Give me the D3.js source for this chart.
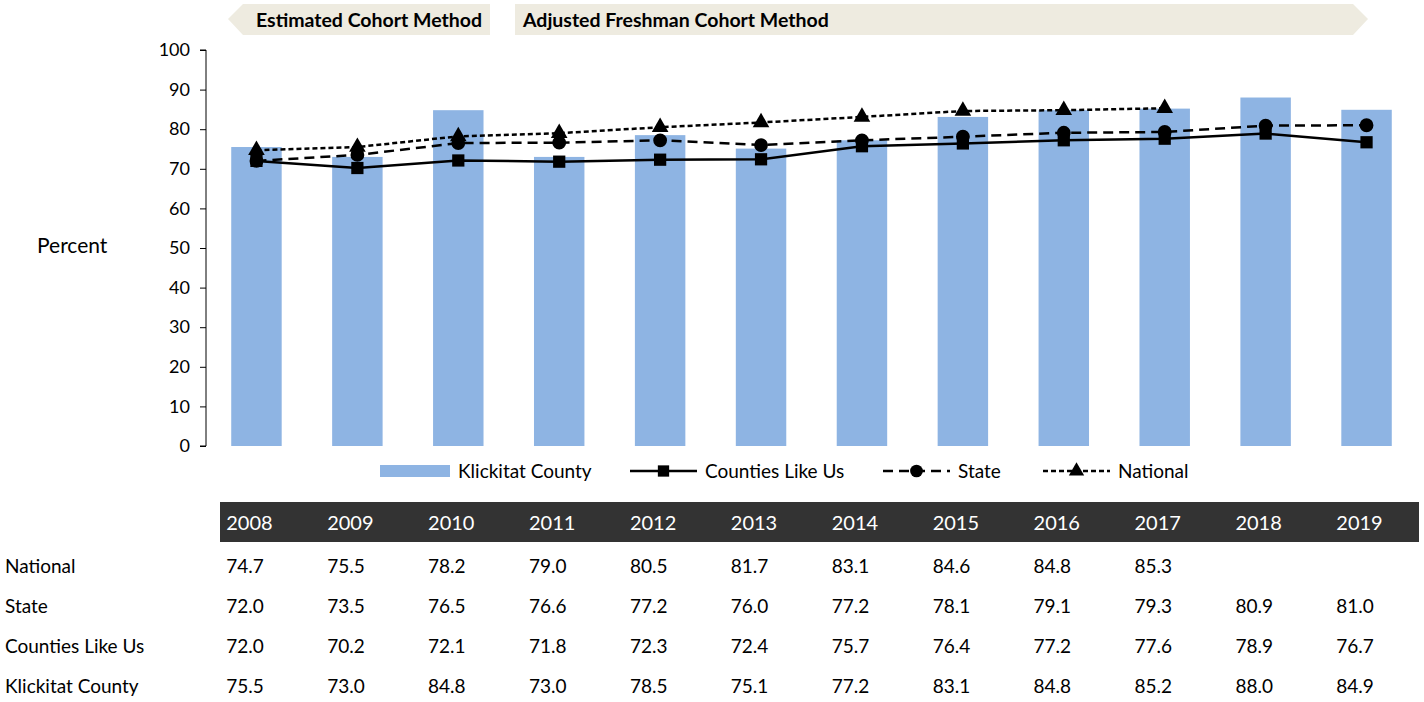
<!DOCTYPE html>
<html>
<head>
<meta charset="utf-8">
<script src="https://cdn.jsdelivr.net/npm/d3@7"></script>
<style>
  body { margin: 0; background: #fff; font-family: Lato, "Open Sans", sans-serif; }
  text { fill: #000; }
</style>
</head>
<body>
<div id="chart"></div>
<script>
const years = ['2008','2009','2010','2011','2012','2013','2014','2015','2016','2017','2018','2019'];
const national = [74.7, 75.5, 78.2, 79.0, 80.5, 81.7, 83.1, 84.6, 84.8, 85.3, null, null];
const state = [72.0, 73.5, 76.5, 76.6, 77.2, 76.0, 77.2, 78.1, 79.1, 79.3, 80.9, 81.0];
const countiesLikeUs = [72.0, 70.2, 72.1, 71.8, 72.3, 72.4, 75.7, 76.4, 77.2, 77.6, 78.9, 76.7];
const klickitat = [75.5, 73.0, 84.8, 73.0, 78.5, 75.1, 77.2, 83.1, 84.8, 85.2, 88.0, 84.9];
const yTicks = [0, 10, 20, 30, 40, 50, 60, 70, 80, 90, 100];

const width = 1424, height = 702;
const plot = { left: 206, right: 1417, top: 50, bottom: 446 };

const svg = d3.select('#chart').append('svg')
    .attr('width', width)
    .attr('height', height)
    .style('font-family', 'Lato, "Open Sans", sans-serif');

// Scales
const xScale = d3.scaleBand()
    .domain(years)
    .range([plot.left, plot.right])
    .paddingInner(0.5)
    .paddingOuter(0.25);

const yScale = d3.scaleLinear()
    .domain([0, 100])
    .range([plot.bottom, plot.top]);

const cx = d => xScale(d) + xScale.bandwidth() / 2;

// Method banners
const banner = svg.append('g');
banner.append('path')
    .attr('d', 'M228,19 L243,4 L490,4 L490,35 L243,35 Z')
    .attr('fill', '#eeebe0');
banner.append('path')
    .attr('d', 'M515,4 L1353,4 L1368,19 L1353,35 L515,35 Z')
    .attr('fill', '#eeebe0');
banner.append('text')
    .attr('x', 256).attr('y', 27)
    .style('font-size', '19.5px').style('font-weight', 'bold')
    .text('Estimated Cohort Method');
banner.append('text')
    .attr('x', 523).attr('y', 27)
    .style('font-size', '19.5px').style('font-weight', 'bold')
    .text('Adjusted Freshman Cohort Method');

// Y axis
const yAxis = d3.axisLeft(yScale)
    .tickValues(yTicks)
    .tickSize(6)
    .tickPadding(10);

const yAxisGroup = svg.append('g')
    .attr('transform', `translate(${plot.left},0)`)
    .call(yAxis);
yAxisGroup.select('.domain').attr('d', `M-6,${plot.top}H0V${plot.bottom}H-6`).attr('stroke', '#000');
yAxisGroup.selectAll('.tick line').attr('stroke', '#000');
yAxisGroup.selectAll('.tick text')
    .style('font-size', '18px')
    .style('font-family', 'Lato, "Open Sans", sans-serif');

svg.append('text')
    .attr('x', 37).attr('y', 253)
    .style('font-size', '21px')
    .text('Percent');

// Bars
svg.append('g').selectAll('rect')
    .data(years)
    .join('rect')
    .attr('x', d => xScale(d))
    .attr('y', (d, i) => yScale(klickitat[i]))
    .attr('width', xScale.bandwidth())
    .attr('height', (d, i) => yScale(0) - yScale(klickitat[i]))
    .attr('fill', '#8eb4e3');

// Lines
const series = [
    { name: 'Counties Like Us', values: countiesLikeUs, dash: null, marker: d3.symbolSquare, size: 150 },
    { name: 'State', values: state, dash: '10,6', marker: d3.symbolCircle, size: 150 },
    { name: 'National', values: national, dash: '5,3', marker: d3.symbolTriangle, size: 120 }
];

const line = d3.line()
    .defined(d => d.v != null)
    .x(d => cx(d.year))
    .y(d => yScale(d.v));

series.forEach(s => {
    const pts = years.map((year, i) => ({ year, v: s.values[i] }));
    svg.append('path')
        .datum(pts)
        .attr('d', line)
        .attr('fill', 'none')
        .attr('stroke', '#000')
        .attr('stroke-width', 2.5)
        .attr('stroke-dasharray', s.dash);
    svg.append('g').selectAll('path')
        .data(pts.filter(d => d.v != null))
        .join('path')
        .attr('transform', d => `translate(${cx(d.year)},${yScale(d.v)})`)
        .attr('d', d3.symbol().type(s.marker).size(s.size))
        .attr('fill', '#000');
});

// Legend
const legend = svg.append('g');
legend.append('rect')
    .attr('x', 380).attr('y', 465).attr('width', 70).attr('height', 12)
    .attr('fill', '#8eb4e3');
legend.append('text').attr('x', 458).attr('y', 478).style('font-size', '19px').text('Klickitat County');

const legendItems = [
    { s: series[0], x: 630, tx: 705 },
    { s: series[1], x: 883, tx: 958 },
    { s: series[2], x: 1043, tx: 1118 }
];
legendItems.forEach(item => {
    legend.append('line')
        .attr('x1', item.x).attr('x2', item.x + 67)
        .attr('y1', 471).attr('y2', 471)
        .attr('stroke', '#000').attr('stroke-width', 2.5)
        .attr('stroke-dasharray', item.s.dash);
    legend.append('path')
        .attr('transform', `translate(${item.x + 33.5},471)`)
        .attr('d', d3.symbol().type(item.s.marker).size(item.s.size * 0.85))
        .attr('fill', '#000');
    legend.append('text').attr('x', item.tx).attr('y', 478).style('font-size', '19px').text(item.s.name);
});

// Data table
const table = svg.append('g');
table.append('rect')
    .attr('x', 220).attr('y', 502).attr('width', 1199).attr('height', 40)
    .attr('fill', '#333333');
table.selectAll('.year')
    .data(years)
    .join('text')
    .attr('x', d => xScale(d) - 5)
    .attr('y', 530)
    .style('font-size', '20px')
    .style('fill', '#fff')
    .text(d => d);

const rows = [
    { label: 'National', values: national },
    { label: 'State', values: state },
    { label: 'Counties Like Us', values: countiesLikeUs },
    { label: 'Klickitat County', values: klickitat }
];
rows.forEach((r, ri) => {
    const y = 573 + ri * 40;
    table.append('text').attr('x', 5).attr('y', y).style('font-size', '19px').text(r.label);
    table.selectAll(null)
        .data(years)
        .join('text')
        .attr('x', d => xScale(d) - 5)
        .attr('y', y)
        .style('font-size', '19px')
        .text((d, i) => r.values[i] == null ? '' : r.values[i].toFixed(1));
});
</script>
</body>
</html>
